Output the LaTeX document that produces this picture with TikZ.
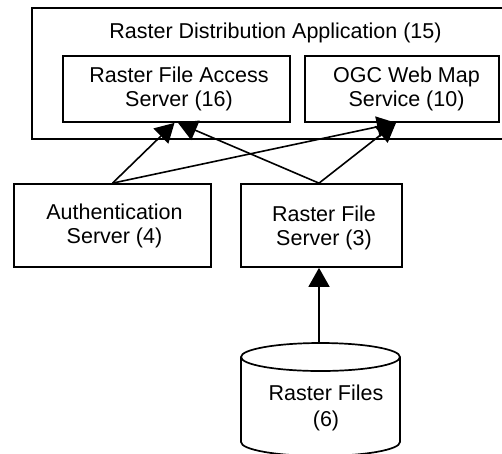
\documentclass[tikz,border=0pt]{standalone}
\usepackage{fontspec}
\setmainfont{Liberation Sans}
\usetikzlibrary{arrows.meta}
\begin{document}
\begin{tikzpicture}[x=1pt,y=-1pt,line width=1.7pt,
  box/.style={draw,rectangle,inner sep=0pt,line width=1.7pt},
  lbl/.style={font=\fontsize{21.5}{24}\selectfont,align=center,inner sep=0pt},
  arr/.style={-{Triangle[length=19pt,width=21pt]},line width=1.6pt}]
\useasboundingbox (0,0) rectangle (502,453);
% container
\node[box,anchor=north west,minimum width=480pt,minimum height=131pt] (app) at (31,7) {};
\node[lbl] (apptitle) at (275.5,33.4) {Raster Distribution Application (15)};
% inner boxes
\node[box,minimum width=227pt,minimum height=66pt] (rfas) at (176.5,89) {};
\node[lbl] (rfast) at (179,89.4) {Raster File Access\\Server (16)};
\node[box,minimum width=194pt,minimum height=66pt] (ogc) at (402,89) {};
\node[lbl] (ogct) at (406.5,89.4) {OGC Web Map\\Service (10)};
% lower boxes
\node[box,minimum width=197pt,minimum height=83pt] (auth) at (112.5,225.5) {};
\node[lbl] (autht) at (114.5,226.4) {Authentication\\Server (4)};
\node[box,minimum width=161pt,minimum height=83pt] (rfs) at (321.5,225.5) {};
\node[lbl] (rfst) at (324,228.2) {Raster File\\Server (3)};
% cylinder
\draw (241,357) -- (241,442) arc[start angle=180,end angle=360,x radius=79.5pt,y radius=14pt] -- (400,357);
\draw (320.5,357) ellipse [x radius=79.5pt,y radius=14pt];
\node[lbl,font=\fontsize{21.5}{26}\selectfont] (files) at (326,407.5) {Raster Files\\(6)};
\coordinate (filestop) at (319,343);
% connectors
\draw[arr] (filestop) -- (filestop |- rfs.south);
\draw[arr] (auth.north) -- ([xshift=-2pt]rfas.south);
\draw[arr] (auth.north) -- ([xshift=-6pt]ogc.south);
\draw[arr] ([xshift=-2.5pt]rfs.north) -- ([xshift=1.5pt]rfas.south);
\draw[arr] ([xshift=-2.5pt]rfs.north) -- ([xshift=-6pt]ogc.south);
\end{tikzpicture}
\end{document}
